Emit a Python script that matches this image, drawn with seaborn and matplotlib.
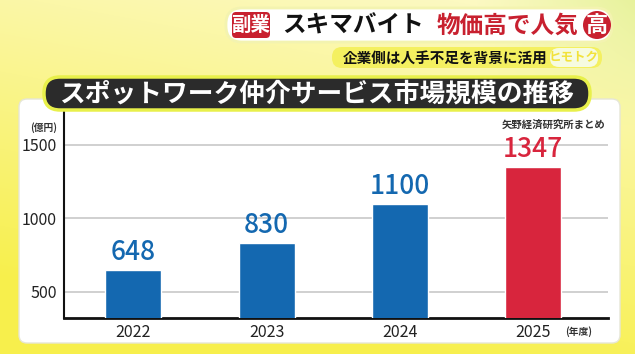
import numpy as np
import pandas as pd
import seaborn as sns
import matplotlib.pyplot as plt
from matplotlib.patches import FancyBboxPatch, Circle

years = ['2022', '2023', '2024', '2025']
values = [648, 830, 1100, 1347]
bar_colors = ['#1468b0', '#1468b0', '#1468b0', '#d8253d']
yticks = [500, 1000, 1500]

sns.set_theme(style='white')
plt.rcParams['font.family'] = ['Noto Sans CJK JP', 'DejaVu Sans']

W, H = 635, 354
fig = plt.figure(figsize=(W / 100, H / 100), dpi=100)

# background gradient (pale yellow -> strong yellow, green-ish on the right)
bg = fig.add_axes([0, 0, 1, 1])
yy, xx = np.mgrid[0:H, 0:W]
t = np.clip((yy / H) * 0.9 + (1 - xx / W) * 0.3, 0, 1)
pale = np.array([0.99, 0.98, 0.80])
strong = np.array([0.97, 0.94, 0.30])
img = pale * (1 - t[..., None]) + strong * t[..., None]
g = np.clip((xx / W - 0.75) * 3, 0, 1) * np.clip(1 - yy / 130, 0, 1)
green = np.array([0.88, 0.94, 0.55])
img = img * (1 - g[..., None]) + green * g[..., None]
bg.imshow(img, extent=[0, W, H, 0], aspect='auto')
bg.set_xlim(0, W)
bg.set_ylim(H, 0)
bg.axis('off')

# white panel
bg.add_patch(FancyBboxPatch((19, 99), 601, 244, boxstyle='round,pad=0,rounding_size=8',
                            fc='white', ec='#e6e6d6', lw=1))

# main chart
ax = fig.add_axes([64 / W, (H - 318) / H, (608 - 64) / W, (318 - 106) / H])
ax.set_facecolor('none')
df = pd.DataFrame({'year': years, 'value': values})
sns.barplot(data=df, x='year', y='value', hue='year', palette=bar_colors,
            width=0.42, saturation=1, legend=False, ax=ax, zorder=3)
for cont, col in zip(ax.containers, bar_colors):
    ax.bar_label(cont, padding=3, fontsize=19, color=col, fontweight='medium')
ax.set_ylim(323, 1765)
ax.set_xlim(-0.52, 3.56)
ax.set_yticks(yticks)
ax.yaxis.grid(True, color='#c8c8c8', lw=1.2, zorder=0)
ax.set_xlabel('')
ax.set_ylabel('')
for s in ['top', 'right']:
    ax.spines[s].set_visible(False)
ax.spines['left'].set_color('#111111')
ax.spines['left'].set_linewidth(1.5)
ax.spines['bottom'].set_color('#111111')
ax.spines['bottom'].set_linewidth(2)
ax.tick_params(axis='both', length=0, labelsize=11.5, colors='#222222')
ax.tick_params(axis='y', pad=5)
ax.tick_params(axis='x', pad=4)

# overlay for header / title
ov = fig.add_axes([0, 0, 1, 1], zorder=5)
ov.set_facecolor('none')
ov.set_xlim(0, W)
ov.set_ylim(H, 0)
ov.axis('off')

# header pill
ov.add_patch(FancyBboxPatch((226, 8), 386, 34, boxstyle='round,pad=0,rounding_size=16',
                            fc='white', ec='#f3f3b0', lw=2))
ov.add_patch(FancyBboxPatch((232, 12), 38, 26, boxstyle='round,pad=0,rounding_size=4',
                            fc='#c8202f', ec='none'))
ov.text(251, 25.5, '副業', color='white', fontsize=14, fontweight='bold', ha='center', va='center')
ov.text(282, 25.5, 'スキマバイト', color='#111111', fontsize=17, fontweight='bold', ha='left', va='center')
ov.text(437, 25.5, '物価高で人気', color='#c8202f', fontsize=17, fontweight='bold', ha='left', va='center')
ov.add_patch(Circle((597, 25), 14, fc='#c8202f', ec='none'))
ov.text(597, 25.5, '高', color='white', fontsize=16, fontweight='bold', ha='center', va='center')

# sub header
ov.add_patch(FancyBboxPatch((332, 47), 270, 21, boxstyle='round,pad=0,rounding_size=10',
                            fc='#f4f060', ec='none'))
ov.text(343, 57.5, '企業側は人手不足を背景に活用', color='#111111', fontsize=10.5,
        fontweight='bold', ha='left', va='center')
ov.add_patch(FancyBboxPatch((550, 48), 48, 19, boxstyle='round,pad=0,rounding_size=9',
                            fc='#f6fbe0', ec='none'))
ov.text(574, 57.5, 'ヒモトク', color='#f2e23a', fontsize=9, fontweight='bold', ha='center', va='center')

# title box
ov.add_patch(FancyBboxPatch((44, 77), 546, 33, boxstyle='round,pad=0,rounding_size=16',
                            fc='#2b2b2b', ec='#e8f04a', lw=2.5))
ov.text(317, 94, 'スポットワーク仲介サービス市場規模の推移', color='white', fontsize=18.5,
        fontweight='bold', ha='center', va='center')

# small notes
ov.text(44, 128, '(億円)', color='#333333', fontsize=7, fontweight='bold', ha='center', va='center')
ov.text(605, 125, '矢野経済研究所まとめ', color='#333333', fontsize=7.5, fontweight='bold',
        ha='right', va='center')
ov.text(565, 332, '(年度)', color='#333333', fontsize=7, fontweight='bold', ha='left', va='center')

fig.savefig('out.png', dpi=100)
